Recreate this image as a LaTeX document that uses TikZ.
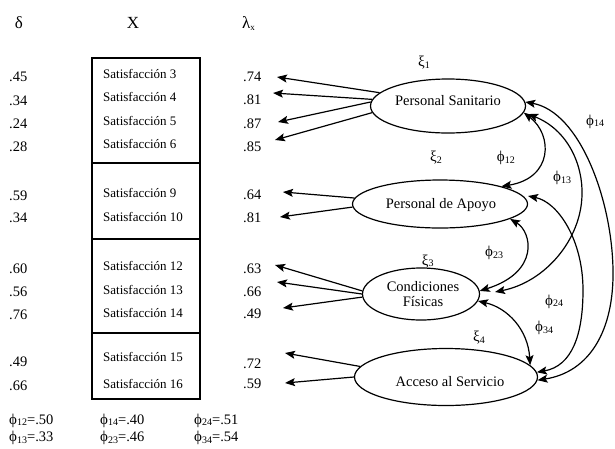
\documentclass[tikz,border=0pt]{standalone}
\usepackage{fontspec}
\setmainfont{Liberation Serif}
\usetikzlibrary{arrows.meta,shapes.geometric}
\newcommand{\mysub}[1]{\raisebox{-1.5pt}{\fontsize{10}{10}\selectfont #1}}
\begin{document}
\begin{tikzpicture}[x=1pt,y=-1pt,
  lat/.style={draw, ellipse, line width=1.2pt, inner sep=0pt},
  arr/.style={-{Stealth[length=10pt,width=8pt,inset=2pt]}, line width=1.2pt},
  darr/.style={{Stealth[length=10pt,width=8pt,inset=2pt]}-{Stealth[length=10pt,width=8pt,inset=2pt]}, line width=1.2pt},
  num/.style={anchor=base west, inner sep=0pt, font=\fontsize{14.5}{16}\selectfont},
  item/.style={anchor=base west, inner sep=0pt, font=\fontsize{13}{15}\selectfont},
  ltxt/.style={anchor=base, inner sep=0pt, font=\fontsize{14.5}{16}\selectfont},
  glab/.style={anchor=base west, inner sep=0pt, font=\fontsize{15}{16}\selectfont},
  hdr/.style={anchor=base, inner sep=0pt, font=\fontsize{17}{18}\selectfont},
  boxst/.style={draw, line width=1.2pt}]
\useasboundingbox (0,0) rectangle (615,448);

% headers
\node[hdr] (hd) at (19,28) {δ};
\node[hdr] (hx) at (133,28) {X};
\node[hdr, anchor=base west] (hl) at (242,28) {λ\raisebox{-2pt}{\fontsize{9}{9}\selectfont x}};

% boxes
\draw[boxst] (92,58) rectangle (200,163);
\draw[boxst] (92,163) rectangle (200,239);
\draw[boxst] (92,239) rectangle (200,333);
\draw[boxst] (92,333) rectangle (200,399);

% items
\node[item] (s3) at (103,78) {Satisfacción 3};
\node[item] (s4) at (103,101.7) {Satisfacción 4};
\node[item] (s5) at (103,125) {Satisfacción 5};
\node[item] (s6) at (103,148.3) {Satisfacción 6};
\node[item] (s9) at (103,197) {Satisfacción 9};
\node[item] (s10) at (103,221.7) {Satisfacción 10};
\node[item] (s12) at (103,270) {Satisfacción 12};
\node[item] (s13) at (103,294) {Satisfacción 13};
\node[item] (s14) at (103,317) {Satisfacción 14};
\node[item] (s15) at (103,361.7) {Satisfacción 15};
\node[item] (s16) at (103,388.3) {Satisfacción 16};

% delta values
\node[num] (d3) at (9,81.7) {.45};
\node[num] (d4) at (9,105) {.34};
\node[num] (d5) at (9,128) {.24};
\node[num] (d6) at (9,151.7) {.28};
\node[num] (d9) at (9,200) {.59};
\node[num] (d10) at (9,222.7) {.34};
\node[num] (d12) at (9,273) {.60};
\node[num] (d13) at (9,296) {.56};
\node[num] (d14) at (9,319) {.76};
\node[num] (d15) at (9,366.7) {.49};
\node[num] (d16) at (9,390) {.66};

% lambda values
\node[num] (l3) at (243,81.7) {.74};
\node[num] (l4) at (243,104) {.81};
\node[num] (l5) at (243,128.3) {.87};
\node[num] (l6) at (243,151.7) {.85};
\node[num] (l9) at (243,199.3) {.64};
\node[num] (l10) at (243,222.7) {.81};
\node[num] (l12) at (243,273) {.63};
\node[num] (l13) at (243,296) {.66};
\node[num] (l14) at (243,318) {.49};
\node[num] (l15) at (243,368) {.72};
\node[num] (l16) at (243,388) {.59};

% latent ellipses
\node[lat, minimum width=155pt, minimum height=54pt] (ps) at (448,106) {};
\node[lat, minimum width=175pt, minimum height=48pt] (pa) at (440,204) {};
\node[lat, minimum width=117pt, minimum height=52pt] (cf) at (421,294) {};
\node[lat, minimum width=183pt, minimum height=57pt] (as) at (446,377) {};

\node[ltxt] (tps) at (448,105) {Personal Sanitario};
\node[ltxt] (tpa) at (441,208) {Personal de Apoyo};
\node[ltxt] (tcf1) at (423,291) {Condiciones};
\node[ltxt] (tcf2) at (423,306) {Físicas};
\node[ltxt] (tas) at (450,386) {Acceso al Servicio};

% xi labels
\node[glab] (x1) at (418,66.7) {ξ\mysub{1}};
\node[glab] (x2) at (430,161.7) {ξ\mysub{2}};
\node[glab] (x3) at (421.7,265) {ξ\mysub{3}};
\node[glab] (x4) at (473,341.7) {ξ\mysub{4}};

% phi labels
\node[glab] (f12) at (496.7,161.7) {ϕ\mysub{12}};
\node[glab] (f13) at (553,181.7) {ϕ\mysub{13}};
\node[glab] (f14) at (586,125) {ϕ\mysub{14}};
\node[glab] (f23) at (485,256.7) {ϕ\mysub{23}};
\node[glab] (f24) at (545,305) {ϕ\mysub{24}};
\node[glab] (f34) at (535,331.7) {ϕ\mysub{34}};

% loading arrow tips
\coordinate (t3) at (277,77);
\coordinate (t4) at (273,93);
\coordinate (t5) at (278,122);
\coordinate (t6) at (275,140);
\coordinate (t9) at (283,192);
\coordinate (t10) at (280,217);
\coordinate (t12) at (275,265);
\coordinate (t13) at (277,282);
\coordinate (t14) at (283,308);
\coordinate (t15) at (285,353);
\coordinate (t16) at (285,383);

\draw[arr] (ps.169) -- (t3);
\draw[arr] (ps.175) -- (t4);
\draw[arr] (ps.177) -- (t5);
\draw[arr] (ps.185) -- (t6);
\draw[arr] (pa.176) -- (t9);
\draw[arr] (pa.182) -- (t10);
\draw[arr] (cf.177) -- (t12);
\draw[arr] (cf.180) -- (t13);
\draw[arr] (cf.183) -- (t14);
\draw[arr] (as.173) -- (t15);
\draw[arr] (as.180) -- (t16);

% covariance ends
\coordinate (c13a) at (528,114);
\coordinate (c13b) at (495,292);
\coordinate (c24a) at (528,196);

\draw[darr] (ps.-5) .. controls (553,135) and (553,178) .. (pa.16);
\draw[darr] (c13a) .. controls (568,130) and (583,165) .. (582,195) .. controls (581,240) and (545,282) .. (c13b);
\draw[darr] (ps.3) .. controls (580,112) and (612,200) .. (613,270) .. controls (614,330) and (590,372) .. (as.-2);
\draw[darr] (c24a) .. controls (558,202) and (583,240) .. (583,290) .. controls (583,335) and (572,366) .. (as.3);
\draw[darr] (pa.-12) .. controls (532,232) and (540,272) .. (cf.3);
\draw[darr] (cf.-7) .. controls (508,308) and (528,330) .. (as.8);

% footer
\node[glab] (p12) at (9,424) {ϕ\mysub{12}{\fontsize{14.5}{16}\selectfont =.50}};
\node[glab] (p13) at (9,441.5) {ϕ\mysub{13}{\fontsize{14.5}{16}\selectfont =.33}};
\node[glab] (p14) at (100,424) {ϕ\mysub{14}{\fontsize{14.5}{16}\selectfont =.40}};
\node[glab] (p23) at (100,441.5) {ϕ\mysub{23}{\fontsize{14.5}{16}\selectfont =.46}};
\node[glab] (p24) at (194,424) {ϕ\mysub{24}{\fontsize{14.5}{16}\selectfont =.51}};
\node[glab] (p34) at (194,441.5) {ϕ\mysub{34}{\fontsize{14.5}{16}\selectfont =.54}};
\end{tikzpicture}
\end{document}
